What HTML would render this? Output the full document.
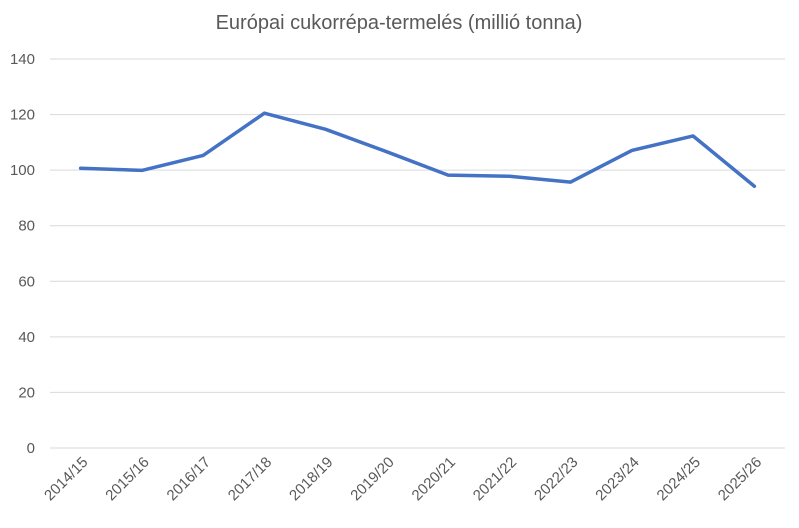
<!DOCTYPE html>
<html><head><meta charset="utf-8"><style>
body{margin:0;background:#fff;}
svg{display:block;font-family:"Liberation Sans",sans-serif;}
</style></head><body>
<svg id="chart" width="799" height="528" viewBox="0 0 799 528">
<rect width="799" height="528" fill="#fff"/>
<text x="399" y="29" text-anchor="middle" font-size="20" fill="#595959">Európai cukorrépa-termelés (millió tonna)</text>
<g id="grid"></g><g id="xlabels"></g><path id="line" fill="none" stroke="#4472C4" stroke-width="3.5" stroke-linejoin="round" stroke-linecap="round"/>
</svg>
<script>
const categories=["2014/15","2015/16","2016/17","2017/18","2018/19","2019/20","2020/21","2021/22","2022/23","2023/24","2024/25","2025/26"];
const values=[100.7,99.9,105.3,120.5,114.7,106.6,98.2,97.8,95.7,107.1,112.3,94.2];
const yTicks=[0,20,40,60,80,100,120,140];
const X0=50,X1=785,Y0=448,Y1=59,YMAX=140;
const xs=i=>X0+(X1-X0)/categories.length*(i+0.5);
const ys=v=>Y0-(Y0-Y1)*v/YMAX;
const NS="http://www.w3.org/2000/svg";
const grid=document.getElementById('grid');
yTicks.forEach(t=>{
 const l=document.createElementNS(NS,'line');
 
 
 l.setAttribute('x1',X0);l.setAttribute('x2',X1);l.setAttribute('y1',ys(t));l.setAttribute('y2',ys(t));
 l.setAttribute('stroke','#d9d9d9');l.setAttribute('stroke-width','1');
 grid.appendChild(l);
 const tx=document.createElementNS(NS,'text');
 
 
 tx.setAttribute('x',35);tx.setAttribute('y',ys(t)+5);tx.setAttribute('text-anchor','end');
 tx.setAttribute('font-size','15');tx.setAttribute('fill','#595959');tx.textContent=t;
 grid.appendChild(tx);
});
const xl=document.getElementById('xlabels');
categories.forEach((c,i)=>{
 const tx=document.createElementNS(NS,'text');
 
 
 const x=xs(i)+8,y=463;
 tx.setAttribute('x',x);tx.setAttribute('y',y);tx.setAttribute('text-anchor','end');
 tx.setAttribute('transform','rotate(-45 '+x+' '+y+')');
 tx.setAttribute('font-size','15');tx.setAttribute('fill','#595959');tx.textContent=c;
 xl.appendChild(tx);
});
document.getElementById('line').setAttribute('d',values.map((v,i)=>(i?'L':'M')+xs(i)+' '+ys(v)).join(' '));
</script>
</body></html>
